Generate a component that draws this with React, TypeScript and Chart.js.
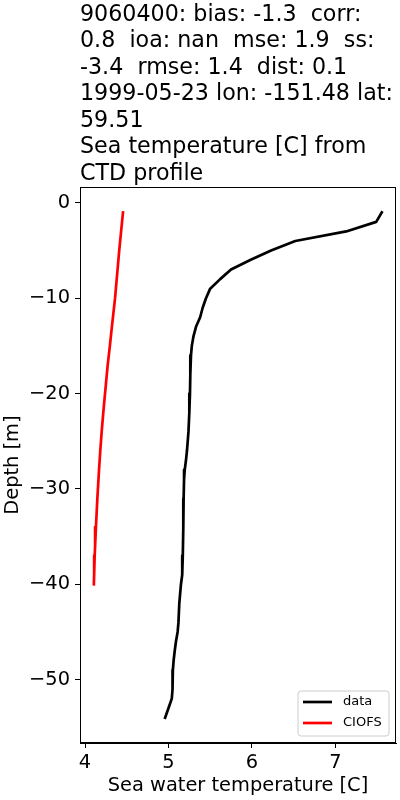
import React, { useEffect, useRef } from "react";
import { Chart, registerables } from "chart.js";

Chart.register(...registerables);

const titleLines = [
  "9060400: bias: -1.3  corr:",
  "0.8  ioa: nan  mse: 1.9  ss:",
  "-3.4  rmse: 1.4  dist: 0.1",
  "1999-05-23 lon: -151.48 lat:",
  "59.51",
  "Sea temperature [C] from",
  "CTD profile",
];

const xTicks = [4, 5, 6, 7];
const yTicks = [0, -10, -20, -30, -40, -50];

const obsDepth = [
  -1, -2, -3, -4, -5, -6, -7, -8, -9, -10, -11, -12, -13, -14, -15, -16, -18,
  -20, -22, -24, -26, -27, -28, -29, -31, -34, -37, -39, -40, -42, -44, -45,
  -46, -47, -48, -49, -50, -51, -52, -53, -54,
];
const obsTemp = [
  7.557, 7.49, 7.13, 6.52, 6.23, 5.98, 5.75, 5.62, 5.5, 5.45, 5.41, 5.38, 5.33,
  5.3, 5.28, 5.27, 5.262, 5.258, 5.25, 5.24, 5.222, 5.21, 5.195, 5.187, 5.182,
  5.178, 5.172, 5.165, 5.15, 5.13, 5.12, 5.11, 5.09, 5.075, 5.062, 5.053,
  5.05, 5.048, 5.04, 5.0, 4.96,
];

const modelDepth = [
  -1, -5, -10, -13, -15, -17, -20, -22, -24, -26, -28, -31, -34, -36, -37, -38,
  -39, -40,
];
const modelTemp = [
  4.455, 4.41, 4.36, 4.322, 4.298, 4.272, 4.24, 4.219, 4.2, 4.183, 4.168,
  4.148, 4.131, 4.121, 4.116, 4.111, 4.108, 4.106,
];

const FONT = "'DejaVu Sans', sans-serif";

const fmt = (v: number) => (v < 0 ? "\u2212" + Math.abs(v) : String(v));

const framePlugin = {
  id: "frame",
  afterDraw(chart: any) {
    const { ctx, chartArea } = chart;
    const l = Math.round(chartArea.left) + 0.5;
    const t = Math.round(chartArea.top) + 0.5;
    const r = Math.round(chartArea.right) - 0.5;
    const b = Math.round(chartArea.bottom) - 0.5;
    ctx.save();
    ctx.strokeStyle = "#000";
    ctx.lineWidth = 1;
    ctx.strokeRect(l, t, r - l, b - t);
    ctx.restore();
  },
};

const legendPlugin = {
  id: "boxLegend",
  afterDraw(chart: any) {
    const { ctx, chartArea } = chart;
    const w = 91;
    const h = 45;
    const x = chartArea.right - 7 - w;
    const y = chartArea.bottom - 7 - h;
    ctx.save();
    ctx.beginPath();
    const rr = 3;
    ctx.moveTo(x + rr, y);
    ctx.lineTo(x + w - rr, y);
    ctx.quadraticCurveTo(x + w, y, x + w, y + rr);
    ctx.lineTo(x + w, y + h - rr);
    ctx.quadraticCurveTo(x + w, y + h, x + w - rr, y + h);
    ctx.lineTo(x + rr, y + h);
    ctx.quadraticCurveTo(x, y + h, x, y + h - rr);
    ctx.lineTo(x, y + rr);
    ctx.quadraticCurveTo(x, y, x + rr, y);
    ctx.closePath();
    ctx.fillStyle = "rgba(255,255,255,0.8)";
    ctx.fill();
    ctx.strokeStyle = "#cccccc";
    ctx.lineWidth = 1;
    ctx.stroke();
    ctx.font = `13px ${FONT}`;
    ctx.textBaseline = "middle";
    ctx.textAlign = "left";
    chart.data.datasets.forEach((ds: any, i: number) => {
      const ly = y + 11 + i * 21;
      ctx.beginPath();
      ctx.moveTo(x + 5, ly);
      ctx.lineTo(x + 34, ly);
      ctx.strokeStyle = ds.borderColor;
      ctx.lineWidth = 2.7;
      ctx.stroke();
      ctx.fillStyle = "#000";
      ctx.fillText(ds.label, x + 45, ly);
    });
    ctx.restore();
  },
};

export default function App() {
  const ref = useRef<HTMLCanvasElement>(null);
  useEffect(() => {
    if (!ref.current) return;
    const chart = new Chart(ref.current, {
      type: "scatter",
      data: {
        datasets: [
          {
            label: "data",
            data: obsDepth.map((d, i) => ({ x: obsTemp[i], y: d })),
            showLine: true,
            borderColor: "#000000",
            backgroundColor: "#000000",
            borderWidth: 2.7,
            borderJoinStyle: "round",
            borderCapStyle: "square",
            pointRadius: 0,
            tension: 0,
          },
          {
            label: "CIOFS",
            data: modelDepth.map((d, i) => ({ x: modelTemp[i], y: d })),
            showLine: true,
            borderColor: "#ff0000",
            backgroundColor: "#ff0000",
            borderWidth: 2.7,
            borderJoinStyle: "round",
            borderCapStyle: "square",
            pointRadius: 0,
            tension: 0,
          },
        ],
      },
      options: {
        animation: false,
        responsive: false,
        devicePixelRatio: 1,
        layout: { padding: { left: 0, right: 4, top: 0, bottom: 0 } },
        plugins: {
          legend: { display: false },
          tooltip: { enabled: false },
          title: {
            display: true,
            text: titleLines,
            align: "start",
            fullSize: false,
            color: "#000",
            font: { family: FONT, size: 22.2, weight: "normal", lineHeight: 26.5 / 22.2 },
            padding: { top: 1.6, bottom: 0 },
          },
        },
        scales: {
          x: {
            type: "linear",
            min: 3.94,
            max: 7.727,
            afterFit: (s: any) => {
              s.height = 57;
            },
            afterBuildTicks: (axis: any) => {
              axis.ticks = xTicks.map((v) => ({ value: v }));
            },
            ticks: {
              color: "#000",
              font: { family: FONT, size: 19.4 },
              padding: 3,
              maxRotation: 0,
              callback: (v: any) => fmt(Number(v)),
            },
            grid: {
              display: true,
              drawOnChartArea: false,
              drawTicks: true,
              tickLength: 5,
              tickColor: "#000",
            },
            border: { display: true, color: "#000" },
            title: {
              display: true,
              text: "Sea water temperature [C]",
              color: "#000",
              font: { family: FONT, size: 19.4 },
              padding: { top: 0, bottom: 2 },
            },
          },
          y: {
            type: "linear",
            min: -56.65,
            max: 1.65,
            afterFit: (s: any) => {
              s.width = 80;
            },
            afterBuildTicks: (axis: any) => {
              axis.ticks = yTicks.map((v) => ({ value: v }));
            },
            ticks: {
              color: "#000",
              font: { family: FONT, size: 19.4 },
              padding: 5,
              callback: (v: any) => fmt(Number(v)),
            },
            grid: {
              display: true,
              drawOnChartArea: false,
              drawTicks: true,
              tickLength: 5,
              tickColor: "#000",
            },
            border: { display: true, color: "#000" },
            title: {
              display: true,
              text: "Depth [m]",
              color: "#000",
              font: { family: FONT, size: 19.4 },
              padding: { top: 1, bottom: 0 },
            },
          },
        },
      },
      plugins: [framePlugin, legendPlugin],
    });
    return () => chart.destroy();
  }, []);
  return (
    <div style={{ position: "absolute", left: 0, top: 0, width: 400, height: 800, background: "#fff" }}>
      <canvas ref={ref} width={400} height={800} style={{ display: "block" }} />
    </div>
  );
}
